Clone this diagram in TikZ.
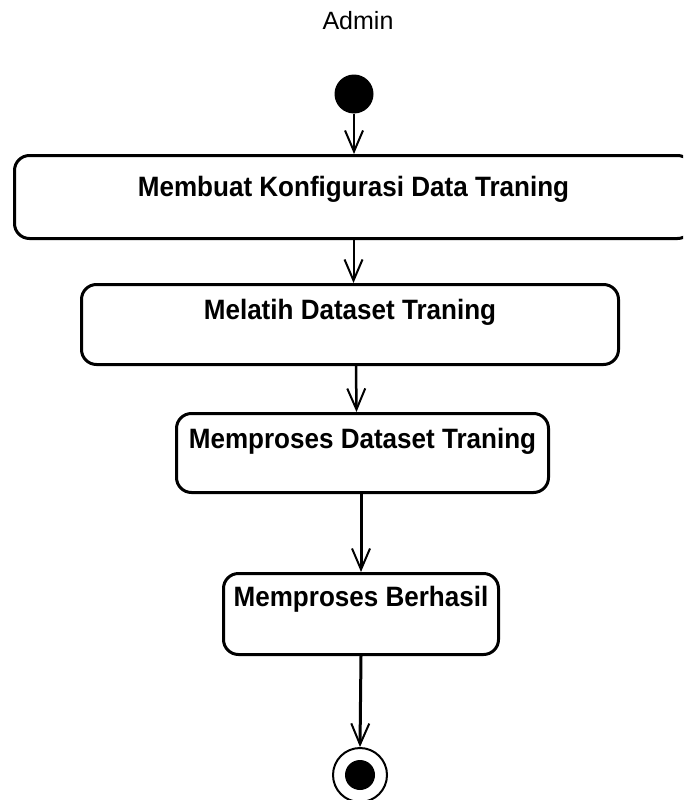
\documentclass[tikz,border=0pt]{standalone}
\usepackage{fontspec}
\setmainfont{Liberation Sans}
\newfontfamily\boxfont[FakeStretch=0.93,BoldFont={Liberation Sans Bold}]{Liberation Sans}
\usetikzlibrary{arrows.meta,calc}

\tikzset{
  actbox/.style={draw, rounded corners=15pt, line width=3pt, inner sep=0pt,
    font=\boxfont\bfseries\fontsize{28}{32}\selectfont, anchor=north west},
  flow/.style={line width=#1, -{Straight Barb[length=21pt,width=18pt,line width=2pt]}},
  flow/.default=2pt,
  startnode/.style={circle, fill=black, minimum size=39pt, inner sep=0pt},
  endnode/.style={circle, draw, line width=2pt, minimum size=54pt, inner sep=0pt,
    path picture={\fill[black] (path picture bounding box.center) circle (15pt);}}
}

\begin{document}
\begin{tikzpicture}[x=1pt,y=-1pt]
  \useasboundingbox (0,0) rectangle (683,800);
  \clip (0,0) rectangle (683,800);

  \node[font=\fontsize{25}{30}\selectfont, anchor=base] (lane) at (358,30) {Admin};

  \node[startnode] (start) at (354,94) {};

  % activity boxes: text height/depth place the label near the top edge
  \node[actbox, minimum width=678pt, text height=41pt, text depth=42pt] (b1) at (13,154)
    {Membuat Konfigurasi Data Traning};
  \node[actbox, minimum width=537pt, text height=35pt, text depth=45pt] (b2) at (80,283)
    {Melatih Dataset Traning};
  \node[actbox, minimum width=372pt, text height=35pt, text depth=44pt] (b3) at (175,412)
    {Memproses Dataset Traning};
  \node[actbox, minimum width=275pt, text height=33pt, text depth=48pt] (b4) at (222,572)
    {Memproses Berhasil};

  \node[endnode] (end) at (360,775) {};

  % control flow
  \draw[flow] (start.south) -- (start.south |- b1.north);
  \draw[flow] (b1.south) -- (b1.south |- b2.north);
  \draw[flow=2.5pt] ($(b2.south)+(6,0)$) -- ($(b3.north)+(-6,0)$);
  \draw[flow=3pt] (b3.south -| b4.north) -- (b4.north);
  \draw[flow=3pt] (b4.south) -- (end.north);
\end{tikzpicture}
\end{document}
